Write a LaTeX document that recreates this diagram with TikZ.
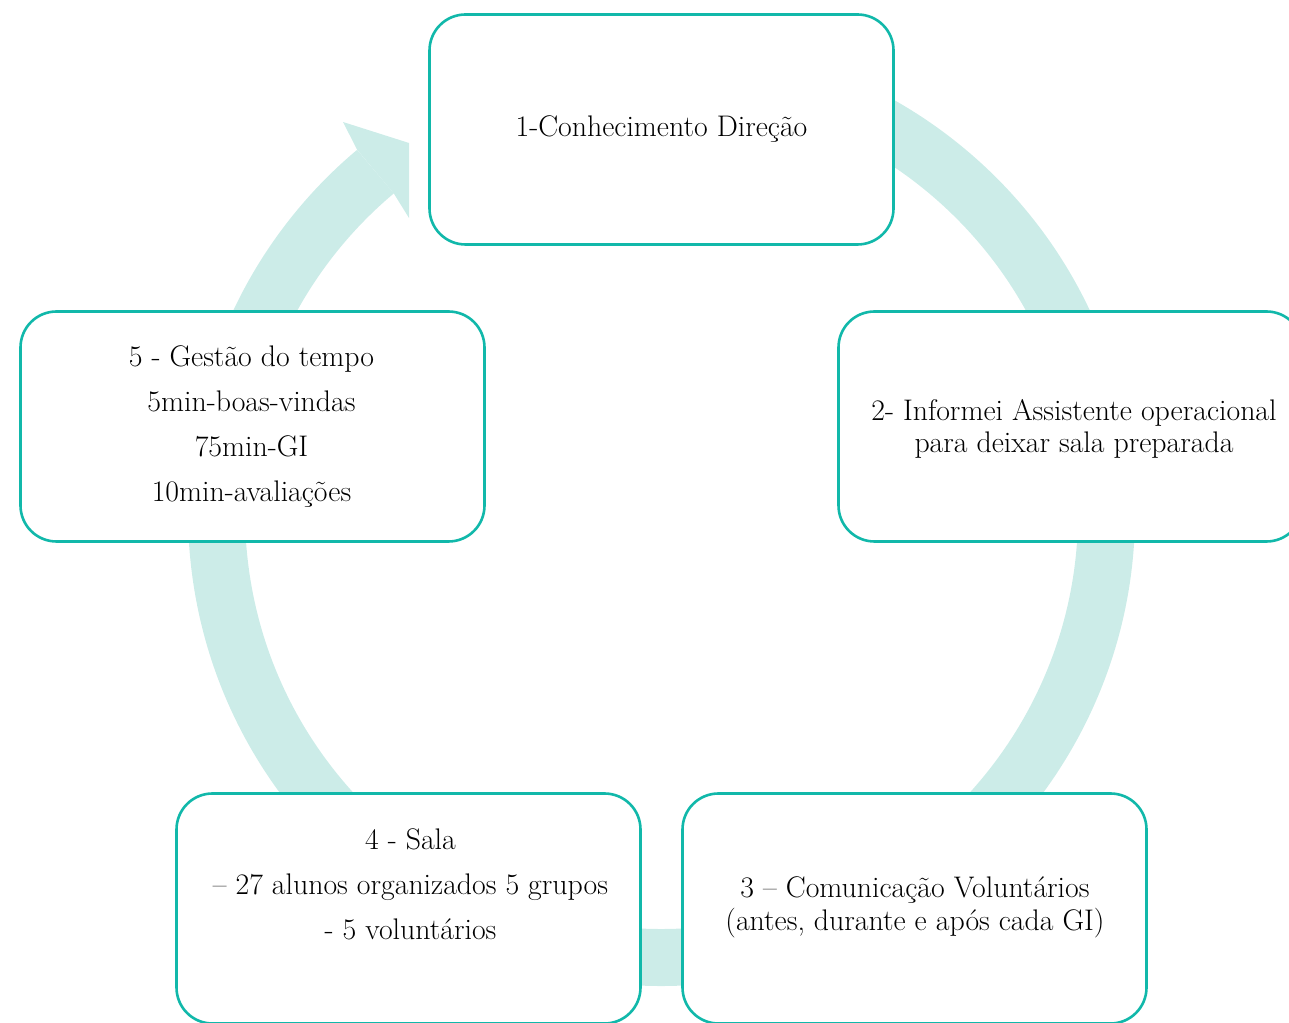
\documentclass[tikz,border=0pt]{standalone}
\usetikzlibrary{calc}
\definecolor{tealline}{RGB}{17,184,170}
\definecolor{ringcol}{RGB}{204,236,232}
\begin{document}
\begin{tikzpicture}[x=1pt,y=1pt,
  box/.style={draw=tealline, line width=2.6pt, fill=white, rounded corners=36pt,
    minimum width=464pt, minimum height=230pt, inner sep=0pt},
  lblwide/.style={align=center, anchor=base, inner sep=0pt,
    font=\fontsize{29.8}{45}\selectfont},
  lbltight/.style={align=center, anchor=base, inner sep=0pt,
    font=\fontsize{29.8}{32}\selectfont}]
\useasboundingbox (0,0) rectangle (1289,1022);
\clip (0,0) rectangle (1289,1022);
\coordinate (c) at (661.5,509.5);
% ring with arrow head
\draw[ringcol, line width=57pt] ($(c)+(95:445)$) arc[start angle=95, end angle=-230, radius=445];
\fill[ringcol] (343,900) -- (409,879) -- (409,804) -- ($(c)+(130:416.5)$) -- ($(c)+(130:473.5)$) -- cycle;
% boxes
\node[box] (b1) at (661.5,892.5) {};
\node[box] (b2) at (1070.5,595.5) {};
\node[box] (b3) at (914.5,113.5) {};
\node[box] (b4) at (408.5,113.5) {};
\node[box] (b5) at (252.5,595.5) {};
% texts (anchor base = baseline of the last line)
\node[lblwide] (t1) at (661.5,885) {1-Conhecimento Direção};
\node[lbltight] (t2) at (1074,569) {2- Informei Assistente operacional\\para deixar sala preparada};
\node[lbltight] (t3) at (915,92) {3 – Comunicação Voluntários\\(antes, durante e após cada GI)};
\node[lblwide] (t4) at (410.5,82) {4 - Sala\\– 27 alunos organizados 5 grupos\\- 5 voluntários};
\node[lblwide] (t5) at (251.5,520) {5 - Gestão do tempo\\5min-boas-vindas\\75min-GI\\10min-avaliações};
\end{tikzpicture}
\end{document}
